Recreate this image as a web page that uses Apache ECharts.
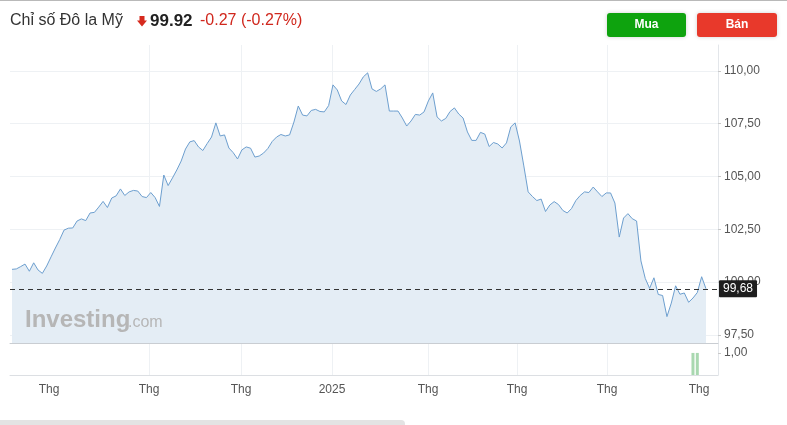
<!DOCTYPE html>
<html><head><meta charset="utf-8">
<script src="https://cdn.jsdelivr.net/npm/echarts@6/dist/echarts.min.js"></script>
<style>html,body{margin:0;padding:0;background:#fff;overflow:hidden}#c{width:787px;height:425px}</style>
</head><body><div id="c"></div>
<script>
// ---- data (one value per trading day) ----
const dxyValues = [
100.60,100.62,100.73,100.85,100.51,100.91,100.57,100.41,100.76,101.19,
101.61,102.01,102.46,102.55,102.56,102.89,102.99,102.91,103.27,103.30,
103.55,103.82,103.53,103.98,104.08,104.41,104.10,104.27,104.34,104.31,
104.05,104.00,104.24,104.00,103.58,105.07,104.57,104.93,105.31,105.73,
106.30,106.64,106.70,106.40,106.23,106.56,106.87,107.54,106.92,106.97,
106.35,106.13,105.83,106.26,106.40,106.34,105.92,105.97,106.11,106.33,
106.66,106.87,106.99,106.92,106.97,107.58,108.34,107.91,107.87,108.13,
108.18,108.08,108.06,108.36,109.34,109.10,108.58,108.41,108.86,109.12,
109.38,109.72,109.91,109.15,109.03,109.15,109.34,108.10,108.10,108.10,
107.77,107.39,107.63,107.94,107.91,108.06,108.58,108.96,107.82,107.63,
107.75,108.08,108.25,107.96,107.77,107.11,106.71,106.71,107.09,107.01,
106.42,106.61,106.54,106.35,106.59,107.35,107.54,106.68,105.50,104.27,
104.05,103.86,103.93,103.34,103.65,103.81,103.67,103.39,103.27,103.48,
103.86,104.10,104.27,104.24,104.50,104.27,104.05,104.22,104.22,103.74,
102.13,103.03,103.24,103.00,102.89,101.00,100.17,99.70,100.20,99.41,
99.36,98.36,99.00,99.82,99.42,99.48,99.04,99.24,99.50,100.25,
99.68];
// month boundaries, in trading-day units (fractional: month starts fall between samples)
const monthTickPos = [8.53, 31.59, 52.80, 73.78, 95.91, 116.43, 137.18, 158.39];
const monthTickLabels = ['Thg', 'Thg', 'Thg', '2025', 'Thg', 'Thg', 'Thg', 'Thg'];
const priceTicks = [97.5, 100, 102.5, 105, 107.5, 110];
const lastValue = 99.68;
const volumeIndex = [157, 158];
const volumeValues = [1.00, 1.00];
const volumeTicks = [1];

const linePoints = dxyValues.map((v, i) => [i, v]);
const monthLabelFor = (v) => {
  let best = 0, bd = Infinity;
  monthTickPos.forEach((p, k) => { const d = Math.abs(p - v); if (d < bd) { bd = d; best = k; } });
  return monthTickLabels[best];
};
const fmt = (v) => v.toFixed(2).replace('.', ',');

const FONT = "'Liberation Sans', Arial, sans-serif";
const NARROW = "'Liberation Sans Narrow', 'Liberation Sans', Arial, sans-serif";
const GRID_LINE = '#eef1f4';
const X_MIN = -0.46, X_MAX = 162.77;

const chart = echarts.init(document.getElementById('c'), null, {renderer: 'canvas'});
chart.setOption({
  animation: false,
  backgroundColor: '#ffffff',
  grid: [
    {left: 10, right: 69, top: 45, height: 298},
    {left: 10, right: 69, top: 343, height: 32}
  ],
  xAxis: [
    {
      type: 'value', gridIndex: 0, min: X_MIN, max: X_MAX,
      axisLine: {show: true, onZero: false, lineStyle: {color: '#c9cdd2', width: 1}},
      axisTick: {show: false, customValues: monthTickPos},
      axisLabel: {show: false, customValues: monthTickPos},
      splitLine: {show: true, showMinLine: false, showMaxLine: false, lineStyle: {color: GRID_LINE, width: 1}}
    },
    {
      type: 'value', gridIndex: 1, min: X_MIN, max: X_MAX,
      axisLine: {show: true, onZero: false, lineStyle: {color: '#dcdfe3', width: 1}},
      axisTick: {show: false, customValues: monthTickPos},
      axisLabel: {
        show: true, customValues: monthTickPos, margin: 9,
        formatter: (v) => monthLabelFor(v),
        color: '#555', fontSize: 12, fontFamily: NARROW
      },
      splitLine: {show: true, showMinLine: false, showMaxLine: false, lineStyle: {color: GRID_LINE, width: 1}}
    }
  ],
  yAxis: [
    {
      type: 'value', gridIndex: 0, position: 'right', min: 97.11, max: 111.23, scale: true,
      axisLine: {show: true, onZero: false, lineStyle: {color: '#e3e6ea', width: 1}},
      axisTick: {show: true, length: 3, customValues: priceTicks, lineStyle: {color: '#c8c8c8'}},
      axisLabel: {show: true, customValues: priceTicks, formatter: fmt, margin: 6,
        color: '#555', fontSize: 12, fontFamily: NARROW},
      splitLine: {show: true, lineStyle: {color: GRID_LINE, width: 1}}
    },
    {
      type: 'value', gridIndex: 1, position: 'right', min: 0, max: 1.45,
      axisLine: {show: true, onZero: false, lineStyle: {color: '#e3e6ea', width: 1}},
      axisTick: {show: true, length: 3, customValues: volumeTicks, lineStyle: {color: '#c8c8c8'}},
      axisLabel: {show: true, customValues: volumeTicks, formatter: fmt, margin: 6,
        color: '#555', fontSize: 12, fontFamily: NARROW},
      splitLine: {show: false}
    }
  ],
  series: [
    {
      type: 'line', xAxisIndex: 0, yAxisIndex: 0, data: linePoints,
      showSymbol: false, symbol: 'none', smooth: false,
      lineStyle: {color: '#6d9fcf', width: 1},
      areaStyle: {color: '#e4edf5', origin: 'start', opacity: 1},
      z: 3,
      markLine: {
        silent: true, symbol: ['none', 'none'],
        data: [{yAxis: lastValue}],
        lineStyle: {color: '#333', width: 1, type: [5, 4]},
        label: {
          show: true, position: 'end', distance: 1,
          formatter: fmt(lastValue),
          backgroundColor: '#1e1e1e', color: '#fff', fontSize: 12, fontFamily: NARROW,
          padding: [3, 4, 2, 4], borderRadius: 1
        }
      }
    },
    {
      type: 'bar', xAxisIndex: 1, yAxisIndex: 1,
      data: volumeIndex.map((idx, k) => [idx, volumeValues[k]]),
      barWidth: 3, itemStyle: {color: '#a9d8b0'}
    }
  ],
  graphic: [
    {type: 'rect', left: 0, top: 0, shape: {width: 787, height: 1}, style: {fill: '#b9b9b9'}, z: 10},
    {type: 'text', x: 10, y: 21, style: {text: 'Chỉ số Đô la Mỹ', fill: '#333', font: "16px " + FONT, textVerticalAlign: 'middle'}, z: 10},
    {type: 'polygon', shape: {points: [[139.5,16],[144.5,16],[144.5,20.5],[147,20.5],[142,26.5],[137,20.5],[139.5,20.5]]}, style: {fill: '#d62a1e'}, z: 10},
    {type: 'text', x: 150, y: 21, style: {text: '99.92', fill: '#222', font: "bold 17px " + FONT, textVerticalAlign: 'middle'}, z: 10},
    {type: 'text', x: 200, y: 21, style: {text: '-0.27 (-0.27%)', fill: '#d0271d', font: "16px " + FONT, textVerticalAlign: 'middle'}, z: 10},
    {type: 'rect', shape: {x: 607, y: 13, width: 79, height: 24, r: 3}, style: {fill: '#0ea30e', shadowBlur: 4, shadowColor: 'rgba(0,0,0,0.18)'}, z: 10},
    {type: 'text', x: 646.5, y: 25, style: {text: 'Mua', fill: '#fff', font: "bold 12px " + FONT, textAlign: 'center', textVerticalAlign: 'middle'}, z: 11},
    {type: 'rect', shape: {x: 697, y: 13, width: 80, height: 24, r: 3}, style: {fill: '#e8392b', shadowBlur: 4, shadowColor: 'rgba(0,0,0,0.18)'}, z: 10},
    {type: 'text', x: 737, y: 25, style: {text: 'Bán', fill: '#fff', font: "bold 12px " + FONT, textAlign: 'center', textVerticalAlign: 'middle'}, z: 11},
    {type: 'text', x: 25, y: 320, style: {text: 'Investing', fill: '#b6b6b6', font: "bold 24px " + FONT, textVerticalAlign: 'middle'}, z: 5},
    {type: 'text', x: 128, y: 323, style: {text: '.com', fill: '#b6b6b6', font: "16px " + FONT, textVerticalAlign: 'middle'}, z: 5},
    {type: 'rect', shape: {x: -4, y: 420, width: 409, height: 10, r: 4}, style: {fill: '#e3e3e3'}, z: 10}
  ]
});
</script>
</body></html>
